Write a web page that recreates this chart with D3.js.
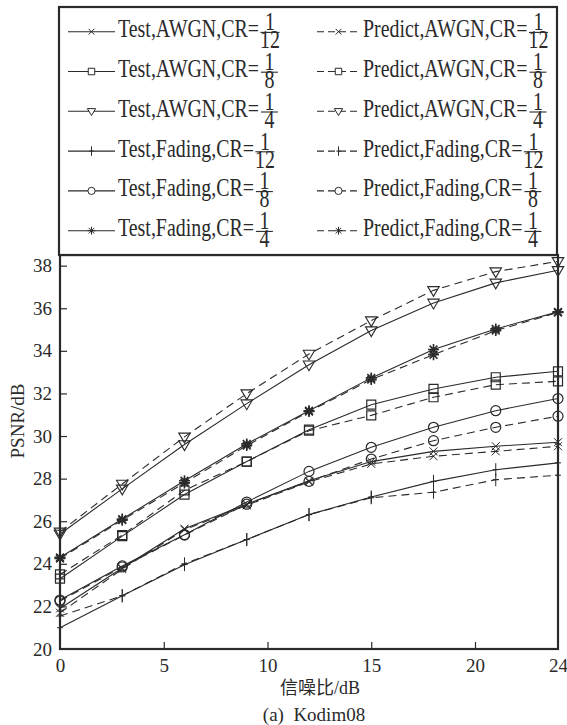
<!DOCTYPE html>
<html><head><meta charset="utf-8">
<script src="https://cdn.jsdelivr.net/npm/d3@7"></script>
<style>body{margin:0;background:#fff}svg{display:block}</style>
</head><body>
<svg id="c" width="567" height="725"></svg>
<script>
const snr = [0,3,6,9,12,15,18,21,24];
const testAwgn12 = [21.9, 23.8, 25.65, 26.8, 27.9, 28.8, 29.28, 29.52, 29.71];
const predAwgn12 = [21.7, 23.75, 25.6, 26.75, 27.85, 28.69, 29.05, 29.28, 29.52];
const testAwgn8  = [23.3, 25.3, 27.25, 28.8, 30.3, 31.47, 32.21, 32.76, 33.04];
const predAwgn8  = [23.5, 25.35, 27.45, 28.8, 30.25, 30.97, 31.82, 32.41, 32.57];
const testAwgn4  = [25.4, 27.52, 29.6, 31.52, 33.35, 34.95, 36.25, 37.19, 37.78];
const predAwgn4  = [25.5, 27.75, 29.96, 31.99, 33.85, 35.42, 36.84, 37.72, 38.2];
const testFad12  = [21.0, 22.5, 23.96, 25.14, 26.31, 27.14, 27.87, 28.42, 28.74];
const predFad12  = [21.55, 22.5, 24.0, 25.14, 26.31, 27.1, 27.36, 27.95, 28.16];
const testFad8   = [22.3, 23.9, 25.37, 26.9, 28.34, 29.47, 30.41, 31.19, 31.76];
const predFad8   = [22.25, 23.85, 25.35, 26.8, 27.87, 28.92, 29.78, 30.41, 30.93];
const testFad4   = [24.3, 26.1, 27.9, 29.63, 31.19, 32.73, 34.06, 35.03, 35.83];
const predFad4   = [24.25, 26.05, 27.8, 29.55, 31.15, 32.65, 33.82, 34.95, 35.8];

const xTicks = [0,5,10,15,20,24];
const yTicks = [20,22,24,26,28,30,32,34,36,38];
const legendNames = ["Test,AWGN,CR=","Test,AWGN,CR=","Test,AWGN,CR=","Test,Fading,CR=","Test,Fading,CR=","Test,Fading,CR=",
                     "Predict,AWGN,CR=","Predict,AWGN,CR=","Predict,AWGN,CR=","Predict,Fading,CR=","Predict,Fading,CR=","Predict,Fading,CR="];
const legendDen = ["12","8","4","12","8","4","12","8","4","12","8","4"];
const xLabel = "信噪比/dB";
const yLabel = "PSNR/dB";
const caption = "(a)  Kodim08";

const series = [
  {v:testAwgn12, m:"x", dash:false},
  {v:testAwgn8,  m:"square", dash:false},
  {v:testAwgn4,  m:"tri", dash:false},
  {v:testFad12,  m:"plus", dash:false},
  {v:testFad8,   m:"circle", dash:false},
  {v:testFad4,   m:"star", dash:false},
  {v:predAwgn12, m:"x", dash:true},
  {v:predAwgn8,  m:"square", dash:true},
  {v:predAwgn4,  m:"tri", dash:true},
  {v:predFad12,  m:"plus", dash:true},
  {v:predFad8,   m:"circle", dash:true},
  {v:predFad4,   m:"star", dash:true}
];

const FONT = "'Liberation Serif','Times New Roman',serif";
const CJK = "'Liberation Serif','Noto Sans CJK SC',serif";
const ink = "#2a2a2a";
const svg = d3.select("#c");
const L = 60, R = 558, T = 255, B = 649;
const x = d3.scaleLinear().domain([0,24]).range([L,R]);
const y = d3.scaleLinear().domain([20,38.5]).range([B,T]);

function markerPath(type, s){
  const p = d3.path();
  if(type==="x"){ p.moveTo(-s,-s);p.lineTo(s,s);p.moveTo(-s,s);p.lineTo(s,-s); }
  else if(type==="plus"){ p.moveTo(0,-s*1.3);p.lineTo(0,s*1.3);p.moveTo(-s*0.6,0);p.lineTo(s*0.6,0); }
  else if(type==="square"){ p.rect(-s,-s,2*s,2*s); }
  else if(type==="tri"){ p.moveTo(-s*1.15,-s*0.75);p.lineTo(s*1.15,-s*0.75);p.lineTo(0,s*1.2);p.closePath(); }
  else if(type==="circle"){ p.moveTo(s,0);p.arc(0,0,s,0,2*Math.PI); }
  else if(type==="star"){
    for(let k=0;k<4;k++){const a=k*Math.PI/4;p.moveTo(-s*Math.cos(a),-s*Math.sin(a));p.lineTo(s*Math.cos(a),s*Math.sin(a));}
  }
  return p.toString();
}
const mSize = {x:4, plus:5, square:4.5, tri:5, circle:5, star:5.5};
const mWidth = {x:1, plus:1, square:1.2, tri:1.1, circle:1.2, star:1.6};

// lines
const line = d3.line().x((d,i)=>x(snr[i])).y(d=>y(d));
const plot = svg.append("g");
series.forEach(s=>{
  plot.append("path").attr("d", line(s.v)).attr("fill","none").attr("stroke",ink)
    .attr("stroke-width",1.1).attr("stroke-dasharray", s.dash?"8,5":null);
});
series.forEach(s=>{
  plot.selectAll(null).data(s.v).enter().append("path")
    .attr("transform",(d,i)=>`translate(${x(snr[i])},${y(d)})`)
    .attr("d", markerPath(s.m, mSize[s.m]))
    .attr("fill","none").attr("stroke",ink).attr("stroke-width",mWidth[s.m]);
});

// frame
svg.append("rect").attr("x",L).attr("y",T).attr("width",R-L).attr("height",B-T)
  .attr("fill","none").attr("stroke",ink).attr("stroke-width",2.2);

// axes
const xAxis = d3.axisBottom(x).tickValues(xTicks).tickSize(-7).tickPadding(10).tickFormat(d3.format("d"));
const gx = svg.append("g").attr("transform",`translate(0,${B})`).call(xAxis);
gx.select(".domain").remove();
gx.selectAll(".tick line").attr("stroke",ink).attr("stroke-width",1.2)
  .filter(d=>d===0||d===24).remove();
gx.selectAll("text").attr("font-family",FONT).attr("font-size",19).attr("fill",ink);

const yAxis = d3.axisLeft(y).tickValues(yTicks).tickSize(-7).tickPadding(8);
const gy = svg.append("g").attr("transform",`translate(${L},0)`).call(yAxis);
gy.select(".domain").remove();
gy.selectAll(".tick line").attr("stroke",ink).attr("stroke-width",1.2).filter(d=>d===20).remove();
gy.selectAll("text").attr("font-family",FONT).attr("font-size",19).attr("fill",ink);

svg.append("text").attr("transform","translate(24,421) rotate(-90)").attr("text-anchor","middle")
  .attr("font-family",FONT).attr("font-size",19).attr("fill",ink).text(yLabel);
svg.append("text").attr("x",320).attr("y",694).attr("text-anchor","middle")
  .attr("font-family",CJK).attr("font-size",18).attr("fill",ink).text(xLabel);
svg.append("text").attr("x",314).attr("y",721).attr("text-anchor","middle")
  .attr("font-family",FONT).attr("font-size",19).attr("fill",ink).attr("xml:space","preserve").text(caption);

// legend
svg.append("rect").attr("x",59).attr("y",7).attr("width",498).attr("height",248)
  .attr("fill","#fff").attr("stroke",ink).attr("stroke-width",2.2);
const SY = 1.28;
// horizontal calibration so the first label spans its width in the reference
const probe = svg.append("text").attr("font-family",FONT).attr("font-size",19).text(legendNames[0]);
const SX = 141 / probe.node().getComputedTextLength();
probe.remove();
function stretchText(g, tx, ty, str, anchor){
  return g.append("text").attr("transform",`translate(${tx},${ty}) scale(${SX},${SY})`)
    .attr("text-anchor",anchor||"start").attr("font-family",FONT).attr("font-size",19).attr("fill",ink).text(str);
}
const colX = [{l0:68,l1:115,tx:118,dash:null},{l0:317,l1:360,tx:363,dash:"7,4"}];
series.forEach((s,i)=>{
  const col = i<6?0:1, row = i%6;
  const cy = 31.7 + row*39.8;
  const c = colX[col];
  const g = svg.append("g");
  g.append("line").attr("x1",c.l0).attr("x2",c.l1).attr("y1",cy).attr("y2",cy)
    .attr("stroke",ink).attr("stroke-width",1.1).attr("stroke-dasharray",s.dash?c.dash:null);
  g.append("path").attr("transform",`translate(${(c.l0+c.l1)/2},${cy})`)
    .attr("d",markerPath(s.m, mSize[s.m]*0.72)).attr("fill","#fff")
    .attr("stroke",ink).attr("stroke-width",1);
  const t = stretchText(g, c.tx, cy+5.5, legendNames[i]);
  const w = t.node().getComputedTextLength()*SX;
  const two = legendDen[i].length===2;
  const fx = c.tx + w + (two?11:10.5);
  // fraction as one text element: numerator and denominator as tspans
  const fr = g.append("text").attr("transform",`translate(${fx},${cy-1.5}) scale(${SX},${SY})`)
    .attr("text-anchor","middle").attr("font-family",FONT).attr("font-size",19).attr("fill",ink);
  fr.append("tspan").attr("x",0).attr("y",0).text("1");
  fr.append("tspan").attr("x",0).attr("y",18/SY).text(legendDen[i]);
  g.append("line").attr("x1",fx-(two?9.5:8.5)).attr("x2",fx+(two?9.5:8.5))
    .attr("y1",cy+0.7).attr("y2",cy+0.7).attr("stroke",ink).attr("stroke-width",1.1);
});
</script>
</body></html>
